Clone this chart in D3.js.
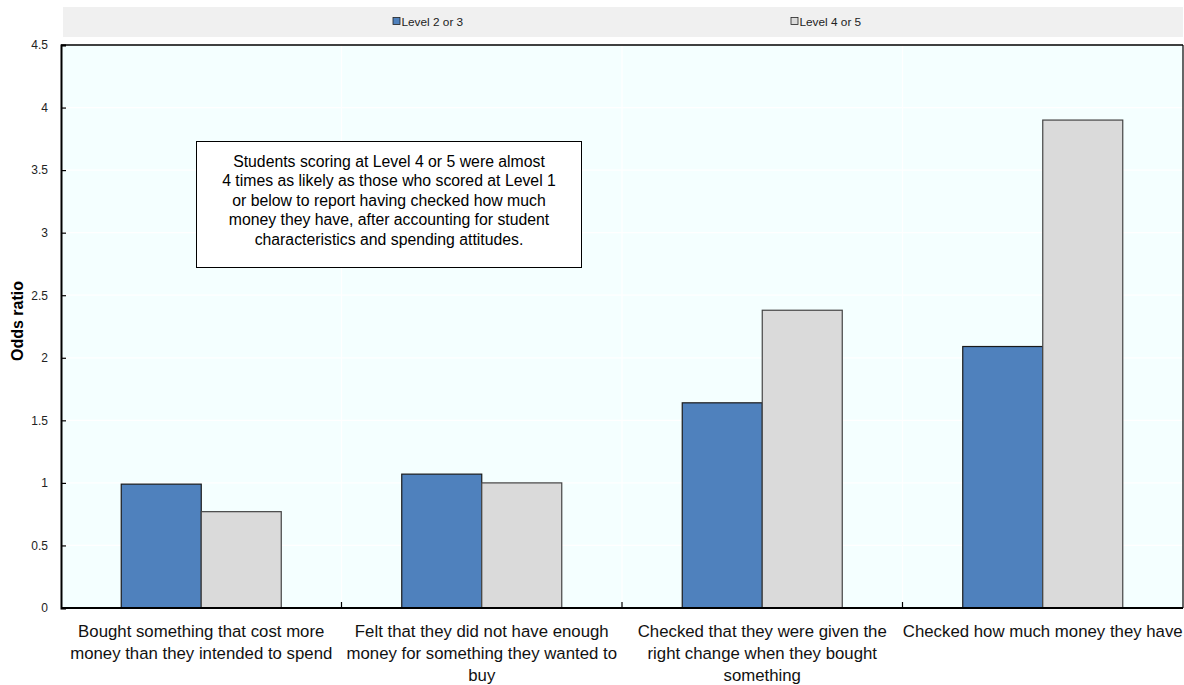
<!DOCTYPE html>
<html><head><meta charset="utf-8">
<script src="https://cdn.jsdelivr.net/npm/d3@7"></script>
<style>body{margin:0;background:#fff;font-family:"Liberation Sans",Arial,sans-serif;}</style>
</head><body><svg id="c" width="1184" height="685"></svg>
<script>
const categories = [
  ["Bought something that cost more", "money than they intended to spend"],
  ["Felt that they did not have enough", "money for something they wanted to", "buy"],
  ["Checked that they were given the", "right change when they bought", "something"],
  ["Checked how much money they have"]
];
const seriesNames = ["Level 2 or 3", "Level 4 or 5"];
const level23 = [0.99, 1.07, 1.64, 2.09];
const level45 = [0.77, 1.0, 2.38, 3.9];
const yTicks = [0, 0.5, 1, 1.5, 2, 2.5, 3, 3.5, 4, 4.5];
const yTickLabels = ["0", "0.5", "1", "1.5", "2", "2.5", "3", "3.5", "4", "4.5"];
const annotation = [
  "Students scoring at Level 4 or 5 were almost",
  "4 times as likely as those who scored at Level 1",
  "or below to report having checked how much",
  "money they have, after accounting for student",
  "characteristics and spending attitudes."
];
const colors = ["#4F81BD", "#DADADA"];
const strokes = ["#1a1a1a", "#444"];

const svg = d3.select("#c");
const L = 61, R = 1183, T = 45, B = 608;
const idx = d3.range(categories.length);
const x = d3.scaleBand().domain(idx).range([L, R]).paddingInner(0).paddingOuter(0);
const x1 = d3.scaleBand().domain([0, 1]).range([0, x.bandwidth()]).paddingOuter(0.753).paddingInner(0);
const y = d3.scaleLinear().domain([0, 4.5]).range([B, T]);

// legend box
svg.append("rect").attr("x", 63).attr("y", 7).attr("width", 1120).attr("height", 30).attr("fill", "#F0F0F0");
const legX = [393, 791];
seriesNames.forEach((n, i) => {
  svg.append("rect").attr("x", legX[i]).attr("y", 17.5).attr("width", 7).attr("height", 7)
    .attr("fill", colors[i]).attr("stroke", "#222").attr("stroke-width", 0.8);
  svg.append("text").attr("x", legX[i] + 8.5).attr("y", 25.5).attr("font-size", 11.8)
    .attr("fill", "#222").text(n);
});

// plot background
svg.append("rect").attr("x", L).attr("y", T).attr("width", R - L).attr("height", B - T).attr("fill", "#F4FFFF");

// gridlines
svg.append("g").selectAll("line").data(yTicks.slice(1)).join("line")
  .attr("x1", L).attr("x2", R).attr("y1", d => y(d)).attr("y2", d => y(d))
  .attr("stroke", "#fff").attr("stroke-width", 1.2);
svg.append("g").selectAll("line").data(idx.slice(1)).join("line")
  .attr("x1", d => x(d)).attr("x2", d => x(d)).attr("y1", T).attr("y2", B)
  .attr("stroke", "#fff").attr("stroke-width", 1.2);

// bars
const groups = svg.append("g").selectAll("g").data(idx).join("g")
  .attr("transform", d => `translate(${x(d)},0)`);
[level23, level45].forEach((vals, s) => {
  groups.append("rect")
    .attr("x", x1(s)).attr("width", x1.bandwidth())
    .attr("y", d => y(vals[d])).attr("height", d => y(0) - y(vals[d]))
    .attr("fill", colors[s]).attr("stroke", strokes[s]).attr("stroke-width", 1.2);
});

// frame
svg.append("line").attr("x1", L).attr("x2", R).attr("y1", T).attr("y2", T).attr("stroke", "#000").attr("stroke-width", 1.5);
svg.append("line").attr("x1", R).attr("x2", R).attr("y1", T).attr("y2", B).attr("stroke", "#000").attr("stroke-width", 1.2);

// y axis
const yAxis = d3.axisLeft(y).tickValues(yTicks).tickFormat((d, i) => yTickLabels[i]).tickSize(-5).tickPadding(13);
const ya = svg.append("g").attr("transform", `translate(${L},0)`).call(yAxis);
ya.select(".domain").attr("stroke", "#000").attr("stroke-width", 2);
ya.selectAll(".tick line").attr("stroke", "#000").attr("stroke-width", 1.2);
ya.selectAll("text").attr("font-size", 12).attr("fill", "#222").attr("font-family", "Liberation Sans, Arial, sans-serif");

// x axis
const xb = svg.append("g");
xb.append("line").attr("x1", L).attr("x2", R).attr("y1", B).attr("y2", B).attr("stroke", "#000").attr("stroke-width", 2);
xb.selectAll("line.t").data(idx.slice(1)).join("line").attr("class", "t")
  .attr("x1", d => x(d)).attr("x2", d => x(d)).attr("y1", B).attr("y2", B - 6)
  .attr("stroke", "#000").attr("stroke-width", 1.2);
idx.forEach(i => {
  const t = svg.append("text").attr("text-anchor", "middle").attr("font-size", 16.8).attr("fill", "#111");
  categories[i].forEach((line, j) => {
    t.append("tspan").attr("x", x(i) + x.bandwidth() / 2).attr("y", 637 + j * 22).text(line);
  });
});

// y label
svg.append("text").attr("transform", "translate(23,321) rotate(-90)").attr("text-anchor", "middle")
  .attr("font-size", 16).attr("font-weight", "bold").attr("fill", "#000").text("Odds ratio");

// annotation
svg.append("rect").attr("x", 196.5).attr("y", 141.5).attr("width", 385).attr("height", 126)
  .attr("fill", "#fff").attr("stroke", "#000").attr("stroke-width", 1);
const at = svg.append("text").attr("text-anchor", "middle").attr("font-size", 15.8).attr("fill", "#000");
annotation.forEach((l, j) => at.append("tspan").attr("x", 389).attr("y", 166.5 + j * 19.6).text(l));
</script></body></html>
